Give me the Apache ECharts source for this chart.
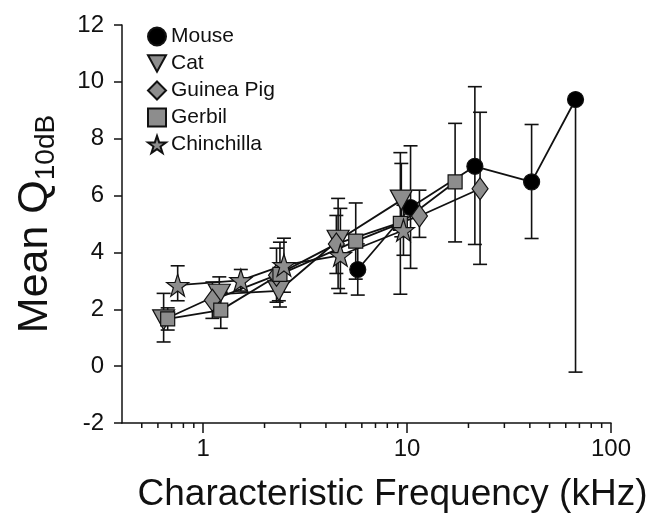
<!DOCTYPE html>
<html>
<head>
<meta charset="utf-8">
<script src="https://cdn.jsdelivr.net/npm/echarts@6/dist/echarts.min.js"></script>
<style>
  html, body { margin: 0; padding: 0; background: #fff; }
  #chart { width: 652px; height: 516px; }
</style>
</head>
<body>
<div id="chart"></div>
<script>
// Mean Q10dB versus characteristic frequency (kHz), with error-bar limits per species.
const mouseCF   = [5.73, 10.4, 21.5, 40.8, 67];
const mouseQ    = [3.40, 5.58, 7.03, 6.48, 9.38];
const mouseLow  = [2.50, 3.44, 4.28, 4.49, -0.21];
const mouseHigh = [4.30, 7.75, 9.83, 8.50, 9.38];

const catCF   = [0.64, 1.20, 2.35, 4.59, 9.37];
const catQ    = [1.63, 2.53, 2.65, 4.43, 5.84];
const catLow  = [0.85, 1.93, 2.30, 2.73, 4.55];
const catHigh = [2.56, 3.14, 3.00, 5.90, 7.13];

const guineaPigCF   = [1.11, 2.29, 4.50, 11.5, 22.8];
const guineaPigQ    = [2.32, 3.20, 4.30, 5.28, 6.24];
const guineaPigLow  = [1.68, 2.25, 3.26, 4.53, 3.58];
const guineaPigHigh = [2.96, 4.15, 5.30, 6.19, 8.93];

const gerbilCF   = [0.67, 1.22, 2.38, 5.60, 9.27, 17.2];
const gerbilQ    = [1.66, 1.97, 3.23, 4.40, 5.02, 6.48];
const gerbilLow  = [1.27, 1.33, 2.08, 3.06, 2.53, 4.37];
const gerbilHigh = [2.05, 2.60, 4.36, 5.74, 7.51, 8.54];

const chinchillaCF   = [0.75, 1.53, 2.49, 4.71, 9.60];
const chinchillaQ    = [2.85, 3.02, 3.55, 3.90, 4.78];
const chinchillaLow  = [2.30, 2.64, 2.60, 2.56, 3.90];
const chinchillaHigh = [3.53, 3.40, 4.50, 5.55, 5.66];

// Axis ranges and tick values
const xMin = 0.4, xMax = 100;
const yMin = -2, yMax = 12, yStep = 2;
const xMinorTicks = [0.5, 0.6, 0.7, 0.8, 0.9, 2, 3, 4, 5, 6, 7, 8, 9, 20, 30, 40, 50, 60, 70, 80, 90];

const FONT = 'Liberation Sans, Arial, Helvetica, sans-serif';
const GREY = '#8d8d8d';

const STAR = 'path://M50,0 L61.8,35.3 L99,35.5 L69.1,57.7 L80.4,93.2 L50,71.5 L19.6,93.2 L30.9,57.7 L1,35.5 L38.2,35.3 Z';
const TRI_DOWN = 'path://M0,0 L22,0 L11,20 Z';

const species = [
  { name: 'Mouse',      cf: mouseCF,      q: mouseQ,      lo: mouseLow,      hi: mouseHigh,      symbol: 'circle', size: 16,       fill: '#000' },
  { name: 'Cat',        cf: catCF,        q: catQ,        lo: catLow,        hi: catHigh,        symbol: TRI_DOWN, size: [22, 20], fill: GREY },
  { name: 'Guinea Pig', cf: guineaPigCF,  q: guineaPigQ,  lo: guineaPigLow,  hi: guineaPigHigh,  symbol: 'diamond', size: [16, 22], fill: GREY },
  { name: 'Gerbil',     cf: gerbilCF,     q: gerbilQ,     lo: gerbilLow,     hi: gerbilHigh,     symbol: 'rect',   size: 14,       fill: GREY },
  { name: 'Chinchilla', cf: chinchillaCF, q: chinchillaQ, lo: chinchillaLow, hi: chinchillaHigh, symbol: STAR,     size: 22,       fill: GREY }
];

function errorBarItem(params, api) {
  const x = api.value(0), mean = api.value(1), lo = api.value(2), hi = api.value(3);
  const pLo = api.coord([x, lo]);
  const pHi = api.coord([x, hi]);
  const half = 7;
  const st = { stroke: '#111', lineWidth: 1.6 };
  const children = [{ type: 'line', shape: { x1: pLo[0], y1: pLo[1], x2: pHi[0], y2: pHi[1] }, style: st }];
  if (lo < mean) children.push({ type: 'line', shape: { x1: pLo[0] - half, y1: pLo[1], x2: pLo[0] + half, y2: pLo[1] }, style: st });
  if (hi > mean) children.push({ type: 'line', shape: { x1: pHi[0] - half, y1: pHi[1], x2: pHi[0] + half, y2: pHi[1] }, style: st });
  return { type: 'group', children };
}

function minorTickItem(params, api) {
  const p = api.coord([api.value(0), yMin]);
  return { type: 'line', shape: { x1: p[0], y1: p[1], x2: p[0], y2: p[1] + 5 }, style: { stroke: '#111', lineWidth: 1.5 } };
}

const series = [];
// connecting lines (drawn first, beneath the bars and markers)
species.forEach(s => {
  series.push({
    type: 'line', name: s.name + ' trend', z: 1, silent: true,
    showSymbol: false, symbol: 'none',
    data: s.cf.map((c, i) => [c, s.q[i]]),
    lineStyle: { color: '#111', width: 1.8 }
  });
});
// error bars
species.forEach(s => {
  series.push({
    type: 'custom', name: s.name + ' error', z: 2, silent: true,
    renderItem: errorBarItem,
    encode: { x: 0, y: 1 },
    data: s.cf.map((c, i) => [c, s.q[i], s.lo[i], s.hi[i]])
  });
});
// markers
species.forEach((s, k) => {
  series.push({
    type: 'scatter', name: s.name, z: 3 + k,
    symbol: s.symbol, symbolSize: s.size,
    data: s.cf.map((c, i) => [c, s.q[i]]),
    itemStyle: { color: s.fill, borderColor: '#111', borderWidth: 1.2, opacity: 1 }
  });
});
// minor ticks of the logarithmic frequency axis
series.push({
  type: 'custom', name: 'minor ticks', z: 10, silent: true, clip: false,
  renderItem: minorTickItem,
  encode: { x: 0, y: 1 },
  data: xMinorTicks.map(v => [v, yMin])
});

const chart = echarts.init(document.getElementById('chart'), null, { renderer: 'canvas' });
chart.setOption({
  animation: false,
  backgroundColor: '#fff',
  grid: { left: 122, right: 41, top: 25, bottom: 93, containLabel: false, outerBoundsMode: 'none' },
  legend: {
    orient: 'vertical', left: 147, top: 26, padding: 0,
    itemWidth: 18, itemHeight: 18, itemGap: 6,
    textStyle: { fontFamily: FONT, fontSize: 21, color: '#111', lineHeight: 21 },
    data: species.map(s => ({ name: s.name, icon: s.symbol })),
    selectedMode: false
  },
  xAxis: {
    type: 'log', logBase: 10, min: xMin, max: xMax,
    name: 'Characteristic Frequency (kHz)',
    nameLocation: 'middle', nameGap: 53,
    nameTextStyle: { fontFamily: FONT, fontSize: 37, color: '#111', padding: [0, 0, 0, 52] },
    axisLine: { show: true, onZero: false, lineStyle: { color: '#111', width: 1.5 } },
    axisTick: { show: true, inside: false, length: 10, lineStyle: { color: '#111', width: 1.5 } },
    axisLabel: {
      showMinLabel: false, margin: 14,
      fontFamily: FONT, fontSize: 24, color: '#111',
      formatter: v => String(Math.round(v))
    },
    splitLine: { show: false }
  },
  yAxis: {
    type: 'value', min: yMin, max: yMax, interval: yStep,
    name: '{a|Mean Q}{b|10dB}',
    nameLocation: 'middle', nameRotate: 90, nameGap: 62,
    nameTextStyle: {
      color: '#111',
      rich: {
        a: { fontFamily: FONT, fontSize: 43, lineHeight: 50, color: '#111' },
        b: { fontFamily: FONT, fontSize: 28, lineHeight: 28, verticalAlign: 'bottom', color: '#111' }
      }
    },
    axisLine: { show: true, onZero: false, lineStyle: { color: '#111', width: 1.5 } },
    axisTick: { show: true, inside: false, length: 8, lineStyle: { color: '#111', width: 1.5 } },
    axisLabel: { margin: 18, fontFamily: FONT, fontSize: 24, color: '#111' },
    splitLine: { show: false }
  },
  series
});
</script>
</body>
</html>
